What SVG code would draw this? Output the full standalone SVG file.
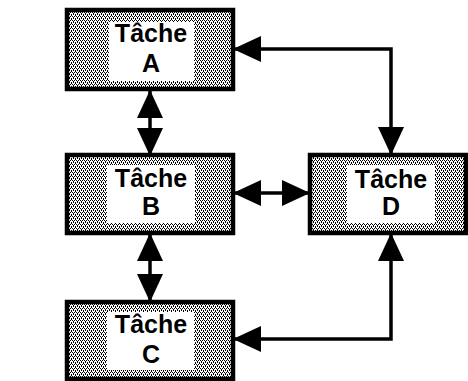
<svg xmlns="http://www.w3.org/2000/svg" width="468" height="381" viewBox="0 0 468 381">
<style>
.box{fill:url(#stip);stroke:#000;stroke-width:4.5}
.inner{fill:#fff;stroke:none}
.lbl{font-family:"Liberation Sans",Arial,sans-serif;font-weight:bold;font-size:25px;fill:#000;text-anchor:middle}
.con{fill:none;stroke:#000;stroke-width:3.5;marker-start:url(#ah);marker-end:url(#ah)}
</style>
<defs>
<pattern id="stip" width="4" height="4" patternUnits="userSpaceOnUse">
<rect width="4" height="4" fill="#fff"/>
<rect x="0" y="0" width="1" height="1" fill="#000"/>
<rect x="2" y="0" width="1" height="1" fill="#000"/>
<rect x="1" y="2" width="1" height="1" fill="#000"/>
<rect x="3" y="2" width="1" height="1" fill="#000"/>
<rect x="1" y="1" width="1" height="1" fill="#000"/>
<rect x="3" y="3" width="1" height="1" fill="#000"/>
</pattern>
<marker id="ah" markerUnits="userSpaceOnUse" markerWidth="30" markerHeight="28" refX="28" refY="14" orient="auto-start-reverse">
<path d="M0,1 L28,14 L0,27 Z" fill="#000"/>
</marker>
</defs>
<rect width="468" height="381" fill="#fff"/>
<g id="connectors">
<line class="con" x1="150" y1="90" x2="150" y2="156"/>
<line class="con" x1="150" y1="233" x2="150" y2="302"/>
<line class="con" x1="233" y1="193" x2="310" y2="193"/>
<path class="con" d="M233,49 H391 V155"/>
<path class="con" d="M391,233 V339 H233"/>
</g>
<g id="nodeA">
<rect class="box" x="67" y="10" width="166" height="79"/>
<rect class="inner" x="109" y="22" width="85" height="59"/>
<text class="lbl" x="151" y="42">Tâche</text>
<text class="lbl" x="151" y="72">A</text>
</g>
<g id="nodeB">
<rect class="box" x="67" y="155" width="166" height="78"/>
<rect class="inner" x="107" y="165" width="88" height="58"/>
<text class="lbl" x="151" y="187">Tâche</text>
<text class="lbl" x="151" y="215">B</text>
</g>
<g id="nodeD">
<rect class="box" x="310" y="155" width="156" height="78"/>
<rect class="inner" x="347" y="165" width="88" height="58"/>
<text class="lbl" x="391" y="188">Tâche</text>
<text class="lbl" x="391" y="215">D</text>
</g>
<g id="nodeC">
<rect class="box" x="67" y="302" width="166" height="77"/>
<rect class="inner" x="107" y="312" width="87" height="58"/>
<text class="lbl" x="151" y="333">Tâche</text>
<text class="lbl" x="151" y="363">C</text>
</g>
</svg>
